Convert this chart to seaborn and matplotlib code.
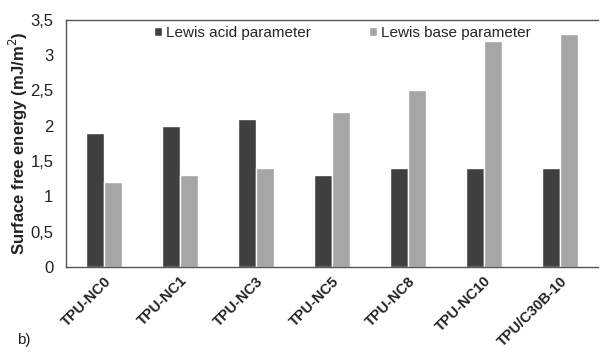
import matplotlib
matplotlib.use("Agg")
import matplotlib.pyplot as plt
import matplotlib.transforms as mtransforms
import seaborn as sns
import pandas as pd

samples = ["TPU-NC0", "TPU-NC1", "TPU-NC3", "TPU-NC5", "TPU-NC8", "TPU-NC10", "TPU/C30B-10"]
acid = [1.9, 2.0, 2.1, 1.3, 1.4, 1.4, 1.4]
base = [1.2, 1.3, 1.4, 2.2, 2.5, 3.2, 3.3]
series = ["Lewis acid parameter", "Lewis base parameter"]
yticks = [0, 0.5, 1, 1.5, 2, 2.5, 3, 3.5]

df = pd.DataFrame({
    "sample": samples * 2,
    "value": acid + base,
    "param": [series[0]] * len(samples) + [series[1]] * len(samples),
})

sns.set_style("white")
plt.rcParams["font.family"] = ["Liberation Sans", "DejaVu Sans"]

fig = plt.figure(figsize=(6.04, 3.55), dpi=100)
ax = fig.add_axes([0.109, 0.248, 0.881, 0.696])

sns.barplot(data=df, x="sample", y="value", hue="param", order=samples,
            hue_order=series, palette=["#404040", "#a6a6a6"], width=0.48,
            saturation=1, ax=ax, legend=True)

ax.set_ylim(0, 3.5)
ax.set_xlim(-0.5, len(samples) - 0.5)
ax.set_yticks(yticks)
ax.set_yticklabels([f"{t:g}".replace(".", ",") for t in yticks], fontsize=12, color="#222222")
ax.set_xticks(range(len(samples)))
ax.set_xticklabels(samples, rotation=45, ha="right", rotation_mode="anchor",
                   fontsize=10.5, fontweight="bold", color="#222222")
# nudge the slanted category labels slightly to the right
shift = mtransforms.ScaledTranslation(6 / 100, 0, fig.dpi_scale_trans)
for lbl in ax.get_xticklabels():
    lbl.set_transform(lbl.get_transform() + shift)
ax.set_xlabel("")
ax.set_ylabel("Surface free energy (mJ/m$^2$)", fontsize=12, fontweight="bold",
              color="#222222", labelpad=0)
ax.tick_params(axis="y", length=3, color="#444444", pad=6)
ax.tick_params(axis="x", length=0, pad=5)

for side in ["left", "bottom", "top"]:
    ax.spines[side].set_color("#555555")
    ax.spines[side].set_linewidth(1.0)
ax.spines["right"].set_visible(False)

ax.legend(loc="upper center", bbox_to_anchor=(0.52, 1.0), ncol=2, frameon=False,
          fontsize=11, handlelength=0.5, handleheight=0.5, handletextpad=0.3,
          columnspacing=3.8, borderaxespad=0.0)

fig.text(0.028, 0.031, "b)", fontsize=11, color="#222222")

fig.savefig("out.png", dpi=100, facecolor="white")
